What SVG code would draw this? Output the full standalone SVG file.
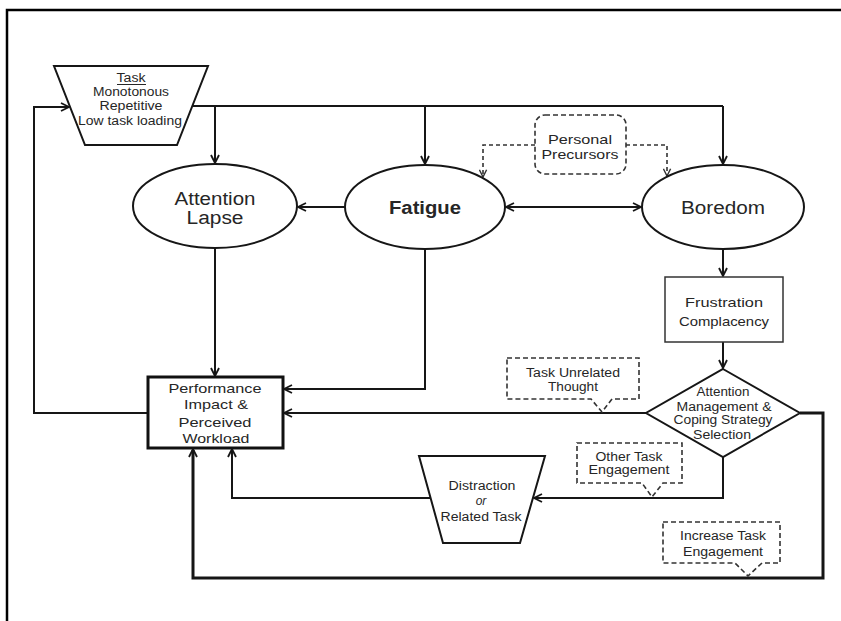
<svg xmlns="http://www.w3.org/2000/svg" width="841" height="621" viewBox="0 0 841 621">
  <style>
    text { font-family: "Liberation Sans", Arial, sans-serif; fill: #262626; text-anchor: middle; }
    .s { font-size: 12px; }
    .m { font-size: 13px; }
    .l { font-size: 18px; }
    .shape { fill: #fff; stroke: #161616; stroke-width: 2; }
    .thin { fill: #fff; stroke: #333; stroke-width: 1.5; }
    .dash { fill: #fff; stroke: #333; stroke-width: 1.6; stroke-dasharray: 5 3; }
    .conn { fill: none; stroke: #161616; stroke-width: 2; }
    .heavy { fill: none; stroke: #161616; stroke-width: 3; }
    .dconn { fill: none; stroke: #333; stroke-width: 1.6; stroke-dasharray: 4 3; }
  </style>
  <defs>
    <marker id="arr" viewBox="0 0 10 10" refX="9" refY="5" markerWidth="10" markerHeight="10" markerUnits="userSpaceOnUse" orient="auto-start-reverse">
      <path d="M1,1 L9,5 L1,9" fill="none" stroke="#161616" stroke-width="1.8"/>
    </marker>
    <marker id="darr" viewBox="0 0 10 10" refX="9" refY="5" markerWidth="9" markerHeight="9" markerUnits="userSpaceOnUse" orient="auto">
      <path d="M1,1 L9,5 L1,9" fill="none" stroke="#333" stroke-width="1.6"/>
    </marker>
  </defs>

  <rect width="841" height="621" fill="#fff"/>
  <!-- outer frame -->
  <path d="M7,621 L7,10 L841,10" fill="none" stroke="#000" stroke-width="2.5"/>

  <g id="connectors">
    <!-- task feed lines -->
    <path class="conn" d="M192,106 L723,106"/>
    <path class="conn" d="M215,106 L215,163" marker-end="url(#arr)"/>
    <path class="conn" d="M425,106 L425,164" marker-end="url(#arr)"/>
    <path class="conn" d="M723,106 L723,164" marker-end="url(#arr)"/>
    <!-- personal precursors -->
    <path class="dconn" d="M535,145 L483,145 L483,177" marker-end="url(#darr)"/>
    <path class="dconn" d="M626,145 L667,145 L667,176" marker-end="url(#darr)"/>
    <!-- fatigue links -->
    <path class="conn" d="M345,207 L298,207" marker-end="url(#arr)"/>
    <path class="conn" d="M506,207 L641,207" marker-start="url(#arr)" marker-end="url(#arr)"/>
    <!-- to performance -->
    <path class="conn" d="M215,249 L215,376" marker-end="url(#arr)"/>
    <path class="conn" d="M425,250 L425,389 L284,389" marker-end="url(#arr)"/>
    <!-- boredom chain -->
    <path class="conn" d="M723,249 L723,276" marker-end="url(#arr)"/>
    <path class="conn" d="M723,342 L723,368" marker-end="url(#arr)"/>
    <!-- task unrelated thought -->
    <path class="conn" d="M646,413 L284,413" marker-end="url(#arr)"/>
    <!-- feedback to task -->
    <path class="conn" d="M148,413 L34,413 L34,107 L69,107" marker-end="url(#arr)"/>
    <!-- other task engagement -->
    <path class="conn" d="M723,457 L723,498 L534,498" marker-end="url(#arr)"/>
    <path class="conn" d="M431,498 L232,498 L232,449" marker-end="url(#arr)"/>
    <!-- increase task engagement -->
    <path class="heavy" d="M800,413 L823,413 L823,578 L193,578 L193,450"/>
    <path class="conn" d="M193,452 L193,449" marker-end="url(#arr)"/>
  </g>

  <g id="task">
    <polygon class="shape" points="54,66 208,66 177,145 85,145"/>
    <g class="s">
      <text x="131" y="82" textLength="29" lengthAdjust="spacingAndGlyphs">Task</text>
      <line x1="117" y1="84.5" x2="146" y2="84.5" stroke="#262626" stroke-width="1"/>
      <text x="131" y="96" textLength="76" lengthAdjust="spacingAndGlyphs">Monotonous</text>
      <text x="131" y="110" textLength="63" lengthAdjust="spacingAndGlyphs">Repetitive</text>
      <text x="130" y="125" textLength="104" lengthAdjust="spacingAndGlyphs">Low task loading</text>
    </g>
  </g>

  <g id="personal-precursors">
    <rect class="dash" x="535" y="115" width="91" height="59" rx="10"/>
    <text class="m" x="580" y="144" textLength="64" lengthAdjust="spacingAndGlyphs">Personal</text>
    <text class="m" x="580" y="159" textLength="77" lengthAdjust="spacingAndGlyphs">Precursors</text>
  </g>

  <g id="attention-lapse">
    <ellipse class="shape" cx="215" cy="206" rx="82" ry="42"/>
    <text class="l" x="215" y="205" textLength="81" lengthAdjust="spacingAndGlyphs">Attention</text>
    <text class="l" x="215" y="224" textLength="57" lengthAdjust="spacingAndGlyphs">Lapse</text>
  </g>

  <g id="fatigue">
    <ellipse class="shape" cx="425" cy="207" rx="80" ry="42"/>
    <text class="l" x="425" y="214" font-weight="bold" textLength="72" lengthAdjust="spacingAndGlyphs">Fatigue</text>
  </g>

  <g id="boredom">
    <ellipse class="shape" cx="723" cy="207" rx="81" ry="42"/>
    <text class="l" x="723" y="214" textLength="84" lengthAdjust="spacingAndGlyphs">Boredom</text>
  </g>

  <g id="frustration">
    <rect class="thin" x="665" y="277" width="118" height="65"/>
    <text class="m" x="724" y="307" textLength="78" lengthAdjust="spacingAndGlyphs">Frustration</text>
    <text class="m" x="724" y="326" textLength="90" lengthAdjust="spacingAndGlyphs">Complacency</text>
  </g>

  <g id="coping-selection">
    <polygon class="shape" points="723,369 800,413 723,457 646,413"/>
    <g class="s">
      <text x="723" y="396" textLength="53" lengthAdjust="spacingAndGlyphs">Attention</text>
      <text x="724" y="411" textLength="95" lengthAdjust="spacingAndGlyphs">Management &amp;</text>
      <text x="723" y="424" textLength="99" lengthAdjust="spacingAndGlyphs">Coping Strategy</text>
      <text x="722" y="439" textLength="58" lengthAdjust="spacingAndGlyphs">Selection</text>
    </g>
  </g>

  <g id="performance">
    <rect x="148" y="377" width="135" height="71" fill="#fff" stroke="#111" stroke-width="3"/>
    <g class="m">
      <text x="215" y="393" textLength="93" lengthAdjust="spacingAndGlyphs">Performance</text>
      <text x="216" y="409" textLength="64" lengthAdjust="spacingAndGlyphs">Impact &amp;</text>
      <text x="215" y="427" textLength="73" lengthAdjust="spacingAndGlyphs">Perceived</text>
      <text x="216" y="443" textLength="67" lengthAdjust="spacingAndGlyphs">Workload</text>
    </g>
  </g>

  <g id="distraction">
    <polygon class="shape" points="419,456 545,456 520,543 443,543"/>
    <g class="s">
      <text x="482" y="490" textLength="67" lengthAdjust="spacingAndGlyphs">Distraction</text>
      <text x="481" y="505" font-style="italic">or</text>
      <text x="481" y="521" textLength="81" lengthAdjust="spacingAndGlyphs">Related Task</text>
    </g>
  </g>

  <g id="task-unrelated-thought">
    <path class="dash" d="M507,358 L639,358 L639,399 L612,399 L602,412 L591,399 L507,399 Z"/>
    <text class="s" x="573" y="377" textLength="94" lengthAdjust="spacingAndGlyphs">Task Unrelated</text>
    <text class="s" x="573" y="391" textLength="50" lengthAdjust="spacingAndGlyphs">Thought</text>
  </g>

  <g id="other-task-engagement">
    <path class="dash" d="M577,443 L682,443 L682,483 L663,483 L652,497 L642,483 L577,483 Z"/>
    <text class="s" x="629" y="461" textLength="67" lengthAdjust="spacingAndGlyphs">Other Task</text>
    <text class="s" x="629" y="474" textLength="81" lengthAdjust="spacingAndGlyphs">Engagement</text>
  </g>

  <g id="increase-task-engagement">
    <path class="dash" d="M663,522 L780,522 L780,563 L762,563 L748,576 L735,563 L663,563 Z"/>
    <text class="s" x="723" y="540" textLength="86" lengthAdjust="spacingAndGlyphs">Increase Task</text>
    <text class="s" x="723" y="556" textLength="80" lengthAdjust="spacingAndGlyphs">Engagement</text>
  </g>
</svg>
